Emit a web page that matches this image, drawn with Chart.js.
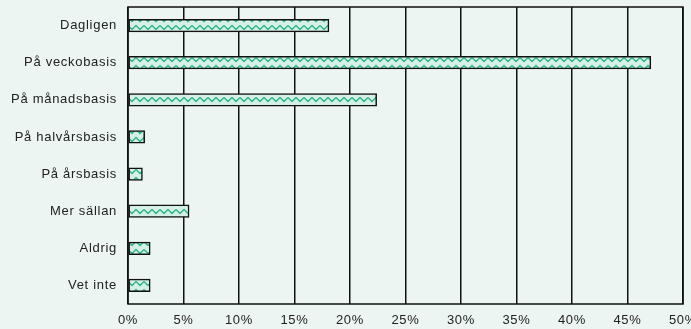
<!DOCTYPE html>
<html>
<head>
<meta charset="utf-8">
<script src="https://cdn.jsdelivr.net/npm/chart.js@4/dist/chart.umd.min.js"></script>
<style>
  html, body { margin: 0; padding: 0; background: #ecf5f1; overflow: hidden; }
  #wrap { width: 695px; height: 329px; }
</style>
</head>
<body>
<div id="wrap"><canvas id="chart"></canvas></div>
<script>
// === Data ===
const categories = [
  "Dagligen",
  "På veckobasis",
  "På månadsbasis",
  "På halvårsbasis",
  "På årsbasis",
  "Mer sällan",
  "Aldrig",
  "Vet inte",
];
const shares = [18.1, 47.1, 22.4, 1.5, 1.3, 5.5, 2.0, 2.0];
const xTicks = [0, 5, 10, 15, 20, 25, 30, 35, 40, 45, 50];

// === Wavy fill pattern ===
function makeWavePattern() {
  const c = document.createElement("canvas");
  c.width = 16;
  c.height = 8;
  const g = c.getContext("2d");
  g.fillStyle = "#d6f0e6";
  g.fillRect(0, 0, 16, 8);
  g.strokeStyle = "#2fb58c";
  g.lineWidth = 1.4;
  g.beginPath();
  g.moveTo(0, 1.5);
  g.lineTo(4, 5.5);
  g.lineTo(8, 1.5);
  g.lineTo(12, 5.5);
  g.lineTo(16, 1.5);
  g.stroke();
  return g.createPattern(c, "repeat");
}

const ctx = document.getElementById("chart");

// the reference text is loosely spaced; canvas resets wipe this, so set it every pass
function spaceText(chart) {
  chart.ctx.letterSpacing = "0.7px";
}

// background, letter spacing and plot frame
const framePlugin = {
  id: "frame",
  beforeUpdate: spaceText,
  beforeLayout: spaceText,
  beforeDraw(chart) {
    spaceText(chart);
    const g = chart.ctx;
    g.save();
    g.fillStyle = "#ecf5f1";
    g.fillRect(0, 0, chart.width, chart.height);
    g.restore();
  },
  afterDatasetsDraw(chart) {
    const { left, top, right, bottom } = chart.chartArea;
    const g = chart.ctx;
    g.save();
    g.strokeStyle = "#111";
    g.lineWidth = 1.5;
    g.strokeRect(left, top, right - left, bottom - top);
    g.restore();
  },
};

// drop the label overflow padding so the plot box sits where we want it
function noPadding(axis) {
  axis.paddingTop = 0;
  axis.paddingBottom = 0;
  axis.paddingLeft = 0;
  axis.paddingRight = 0;
}

const font = { family: "Liberation Sans, Arial, sans-serif", size: 13 };

new Chart(ctx, {
  type: "bar",
  data: {
    labels: categories,
    datasets: [
      {
        data: shares,
        backgroundColor: makeWavePattern(),
        borderColor: "#111",
        borderWidth: 1.5,
        borderSkipped: false,
        barThickness: 12.5,
      },
    ],
  },
  options: {
    indexAxis: "y",
    responsive: true,
    maintainAspectRatio: false,
    animation: false,
    layout: { padding: { top: 7, left: 0, right: 12, bottom: 0 } },
    plugins: { legend: { display: false }, tooltip: { enabled: false } },
    scales: {
      x: {
        min: 0,
        max: 50,
        afterBuildTicks: (axis) => {
          axis.ticks = xTicks.map((v) => ({ value: v }));
        },
        afterFit: (axis) => {
          noPadding(axis);
          axis.height = 25;
        },
        grid: {
          color: "#111",
          lineWidth: 1.5,
          drawTicks: false,
        },
        border: { display: false },
        ticks: {
          padding: 9,
          maxRotation: 0,
          color: "#222",
          font,
          callback: (v) => v + "%",
        },
      },
      y: {
        grid: { display: false, drawTicks: false },
        border: { display: false },
        afterFit: (axis) => {
          noPadding(axis);
          axis.width = 128;
        },
        ticks: {
          padding: 11,
          color: "#222",
          font,
        },
      },
    },
  },
  plugins: [framePlugin],
});
</script>
</body>
</html>
